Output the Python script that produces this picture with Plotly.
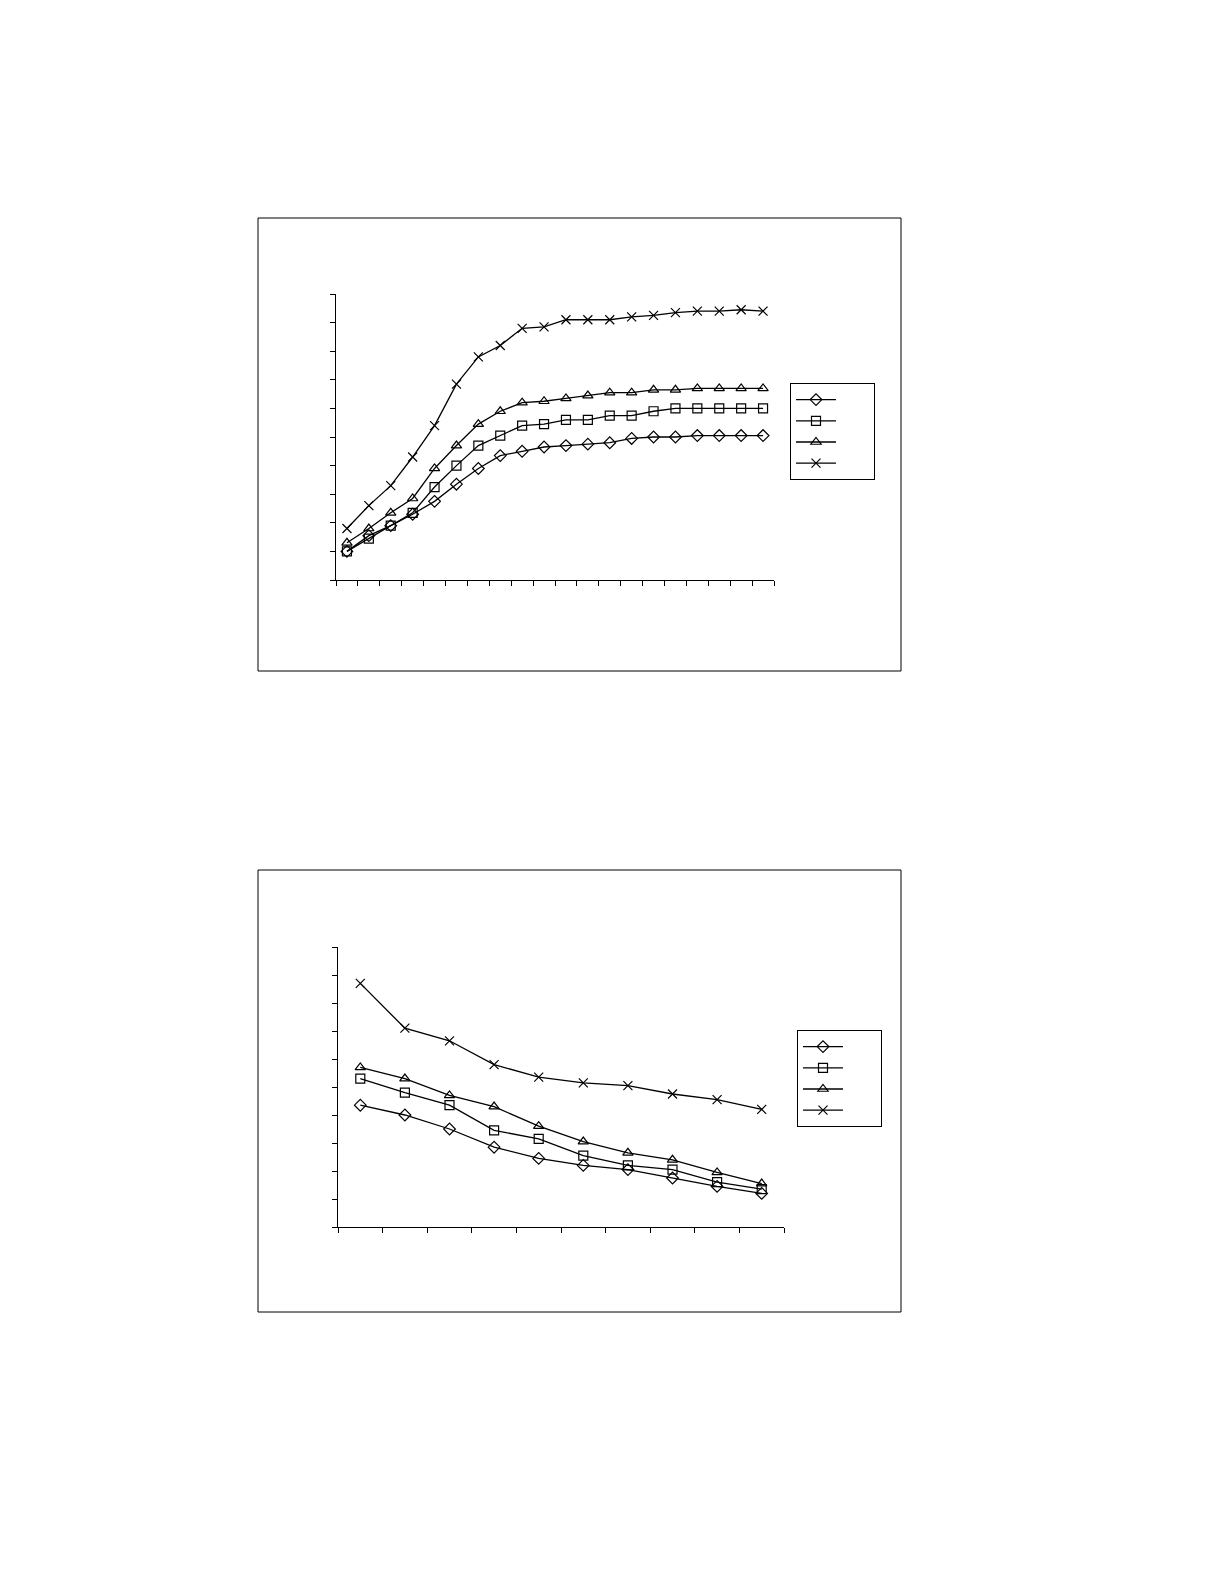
import plotly.graph_objects as go

# top chart: 20 categories, four series (values in tick units 0-10)
top_x = list(range(1, 21))
top_diamond = [1.0, 1.55, 1.9, 2.3, 2.75, 3.35, 3.9, 4.35, 4.5, 4.65, 4.7, 4.75, 4.8, 4.95, 5.0, 5.0, 5.05, 5.05, 5.05, 5.05]
top_square = [1.0, 1.45, 1.9, 2.35, 3.25, 4.0, 4.7, 5.05, 5.4, 5.45, 5.6, 5.6, 5.75, 5.75, 5.9, 6.0, 6.0, 6.0, 6.0, 6.0]
top_triangle = [1.3, 1.8, 2.35, 2.85, 3.9, 4.7, 5.45, 5.9, 6.2, 6.25, 6.35, 6.45, 6.55, 6.55, 6.65, 6.65, 6.7, 6.7, 6.7, 6.7]
top_cross = [1.8, 2.6, 3.3, 4.3, 5.4, 6.85, 7.8, 8.2, 8.8, 8.85, 9.1, 9.1, 9.1, 9.2, 9.25, 9.35, 9.4, 9.4, 9.45, 9.4]

# bottom chart: 10 categories
bot_x = list(range(1, 11))
bot_diamond = [4.35, 4.0, 3.5, 2.85, 2.45, 2.2, 2.05, 1.75, 1.45, 1.2]
bot_square = [5.3, 4.8, 4.35, 3.45, 3.15, 2.55, 2.2, 2.05, 1.6, 1.35]
bot_triangle = [5.7, 5.3, 4.7, 4.3, 3.6, 3.05, 2.65, 2.4, 1.95, 1.55]
bot_cross = [8.7, 7.1, 6.65, 5.8, 5.35, 5.15, 5.05, 4.75, 4.55, 4.2]

W, H = 1225, 1585
symbols = ["diamond-open", "square-open", "triangle-up-open", "x-thin-open"]

fig = go.Figure()

def add_series(xs, series, xa, ya, legend):
    for vals, sym in zip(series, symbols):
        fig.add_trace(go.Scatter(
            x=xs, y=vals, xaxis=xa, yaxis=ya, legend=legend,
            mode="lines+markers", name="\u2003\u2003",
            line=dict(color="black", width=1.3),
            marker=dict(symbol=sym, size=9, color="black", line=dict(color="black", width=1.2)),
        ))

add_series(top_x, [top_diamond, top_square, top_triangle, top_cross], "x", "y", "legend")
add_series(bot_x, [bot_diamond, bot_square, bot_triangle, bot_cross], "x2", "y2", "legend2")

ax = dict(showgrid=False, zeroline=False, showline=True, linecolor="black", linewidth=1,
          ticks="outside", ticklen=5, tickcolor="black", showticklabels=False)

fig.update_layout(
    width=W, height=H, margin=dict(l=0, r=0, t=0, b=0),
    paper_bgcolor="white", plot_bgcolor="white",
    xaxis=dict(ax, domain=[328 / W, 766 / W], range=[0.5, 20.5],
               tickvals=[i + 0.5 for i in range(0, 21)], anchor="y"),
    yaxis=dict(ax, domain=[1 - 572 / H, 1 - 286 / H], range=[0, 10], dtick=1, anchor="x"),
    xaxis2=dict(ax, domain=[330 / W, 776 / W], range=[0.5, 10.5],
                tickvals=[i + 0.5 for i in range(0, 11)], anchor="y2"),
    yaxis2=dict(ax, domain=[1 - 1219 / H, 1 - 939 / H], range=[0, 10], dtick=1, anchor="x2"),
    legend=dict(x=782 / W, y=1 - 375 / H, xanchor="left", yanchor="top",
                bordercolor="black", borderwidth=1, bgcolor="white",
                font=dict(size=14), itemwidth=40, tracegroupgap=2),
    legend2=dict(x=789 / W, y=1 - 1022 / H, xanchor="left", yanchor="top",
                 bordercolor="black", borderwidth=1, bgcolor="white",
                 font=dict(size=14), itemwidth=40, tracegroupgap=2),
    shapes=[
        dict(type="rect", xref="paper", yref="paper", x0=250 / W, x1=893 / W,
             y0=1 - 663 / H, y1=1 - 210 / H, line=dict(color="black", width=1)),
        dict(type="rect", xref="paper", yref="paper", x0=250 / W, x1=893 / W,
             y0=1 - 1304 / H, y1=1 - 862 / H, line=dict(color="black", width=1)),
    ],
)

fig.write_html("out.html")
